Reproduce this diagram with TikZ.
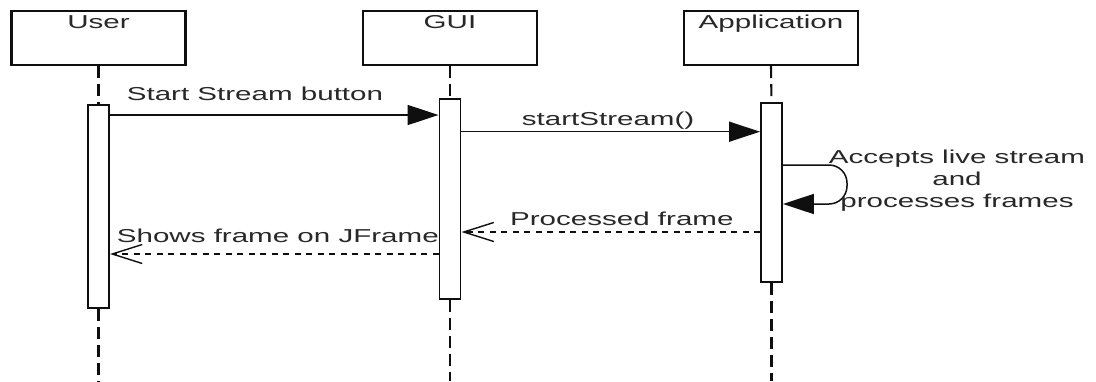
\documentclass[tikz,border=0pt]{standalone}
\usepackage{fontspec}
\usetikzlibrary{arrows.meta}
\newfontfamily\lblfont[FakeStretch=1.58]{Liberation Sans}
\definecolor{ink}{RGB}{15,15,15}
\definecolor{txt}{RGB}{40,40,40}
\begin{document}
\begin{tikzpicture}[x=1pt,y=-1pt,
  lbl/.style={font=\lblfont\fontsize{18.7}{22}\selectfont, text=txt, inner sep=0pt},
  actor/.style={draw=ink, line width=2.1pt, minimum width=174pt, minimum height=54pt, inner sep=0pt, anchor=north},
  actbar/.style={draw=ink, line width=1.9pt, fill=white, minimum width=21pt, inner sep=0pt, anchor=north},
  life/.style={draw=ink, line width=2.1pt, dash pattern=on 12pt off 6pt},
  call/.style={draw=ink, line width=1.5pt, -{Triangle[length=31pt,width=20pt]}},
  reply/.style={draw=ink, line width=1.5pt, dash pattern=on 6pt off 5.5pt,
    -{Straight Barb[length=30pt,width=19pt,line width=1.4pt]}}]
\useasboundingbox (0,0) rectangle (1096,381);
\fill[white] (0,0) rectangle (1096,381);

% participants
\node[actor] (user) at (98.5,10) {};
\node[actor] (gui)  at (450,10) {};
\node[actor] (app)  at (771,10) {};
\node[lbl, anchor=base] (usert) at (user.north |- 0,28.5) {User};
\node[lbl, anchor=base] (guit)  at (gui.north |- 0,28.5) {GUI};
\node[lbl, anchor=base] (appt)  at (app.north |- 0,28.5) {Application};

% activation bars
\node[actbar, minimum height=203pt] (ubar) at (98.5,104) {};
\node[actbar, minimum height=200pt] (gbar) at (450,98) {};
\node[actbar, minimum height=179pt] (abar) at (771.5,102) {};

% lifelines
\coordinate (bottom) at (0,381);
\draw[life] (user.south) -- (ubar.north);
\draw[life] (gui.south) -- (gbar.north);
\draw[life] (app.south) -- (abar.north);
\draw[life] (ubar.south) -- (ubar.south |- bottom);
\draw[life] (gbar.south) -- (gbar.south |- bottom);
\draw[life] (abar.south) -- (abar.south |- bottom);

% message rows
\coordinate (m1) at (0,115);
\coordinate (m2) at (0,131.7);
\coordinate (s1) at (0,165);
\coordinate (s2) at (0,204);
\coordinate (loopx) at (847,0);
\coordinate (m4) at (0,232);
\coordinate (m5) at (0,254);

% messages
\draw[call] (ubar.east |- m1) -- (gbar.west |- m1);
\node[lbl, anchor=base west] (t1) at (126.7,100.7) {Start Stream button};

\draw[call] (gbar.east |- m2) -- (abar.west |- m2);
\node[lbl, anchor=base west] (t2) at (521.7,125) {startStream()};

\draw[call, rounded corners=18pt] (abar.east |- s1) -| (loopx |- s2) -- (abar.east |- s2);
\node[lbl, anchor=base] (t3a) at (957,163) {Accepts live stream};
\node[lbl, anchor=base] (t3b) at (957,185) {and};
\node[lbl, anchor=base] (t3c) at (957,207) {processes frames};

\draw[reply] (abar.west |- m4) -- (gbar.east |- m4);
\node[lbl, anchor=base west] (t4) at (510,225) {Processed frame};

\draw[reply] (gbar.west |- m5) -- (ubar.east |- m5);
\node[lbl, anchor=base west] (t5) at (116.7,242.7) {Shows frame on JFrame};
\end{tikzpicture}
\end{document}
